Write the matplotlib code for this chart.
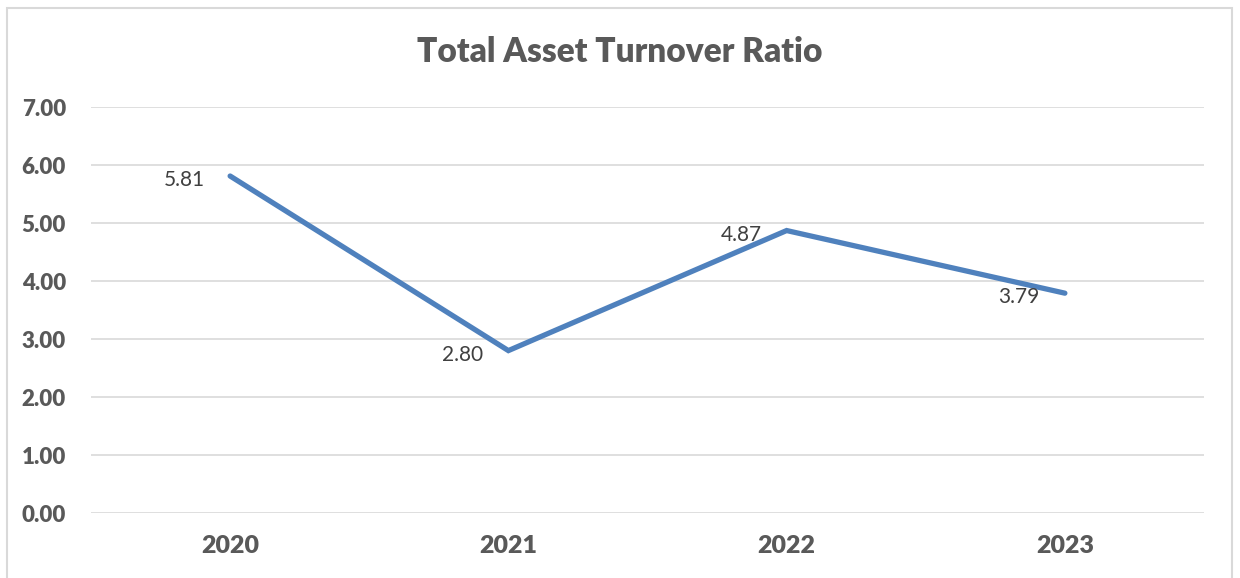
import matplotlib.pyplot as plt
from matplotlib.patches import Rectangle

# Data
years = ['2020', '2021', '2022', '2023']
ratio = [5.81, 2.80, 4.87, 3.79]
y_ticks = [0, 1, 2, 3, 4, 5, 6, 7]

plt.rcParams['font.family'] = ['Lato', 'DejaVu Sans']

fig = plt.figure(figsize=(12.4, 5.78), dpi=100)
ax = fig.add_axes([91 / 1240, 65 / 578, (1204 - 91) / 1240, (513 - 107) / 578])

x = range(len(years))
ax.plot(x, ratio, color='#4F81BD', lw=3.8, solid_capstyle='round', solid_joinstyle='miter', zorder=3)

for xi, v in zip(x, ratio):
    ax.annotate(f'{v:.2f}', (xi, v), xytext=(-18, -3), textcoords='offset points',
                ha='right', va='center', fontsize=15, color='#404040')

ax.set_xlim(-0.5, len(years) - 0.5)
ax.set_ylim(0, 7)
ax.set_yticks(y_ticks)
ax.set_yticklabels([f'{t:.2f}' for t in y_ticks])
ax.set_xticks(list(x))
ax.set_xticklabels(years)
ax.tick_params(axis='y', length=0, pad=18, labelsize=16, labelcolor='#595959')
ax.tick_params(axis='x', length=0, pad=16, labelsize=18, labelcolor='#595959')
for lab in ax.get_xticklabels() + ax.get_yticklabels():
    lab.set_fontweight('heavy')

ax.grid(axis='y', color='#d9d9d9', lw=1.2)
ax.set_axisbelow(True)
for s in ax.spines.values():
    s.set_visible(False)

fig.text(0.5, 1 - 52 / 578, 'Total Asset Turnover Ratio', ha='center', va='center',
         fontsize=24, fontweight='heavy', color='#595959')

# light chart-area border
fig.patches.append(Rectangle((7 / 1240, -0.05), (1232 - 7) / 1240, 1.05 - 8 / 578,
                             transform=fig.transFigure, fill=False, edgecolor='#d9d9d9', lw=1.5))

fig.savefig('out.png', dpi=100)
